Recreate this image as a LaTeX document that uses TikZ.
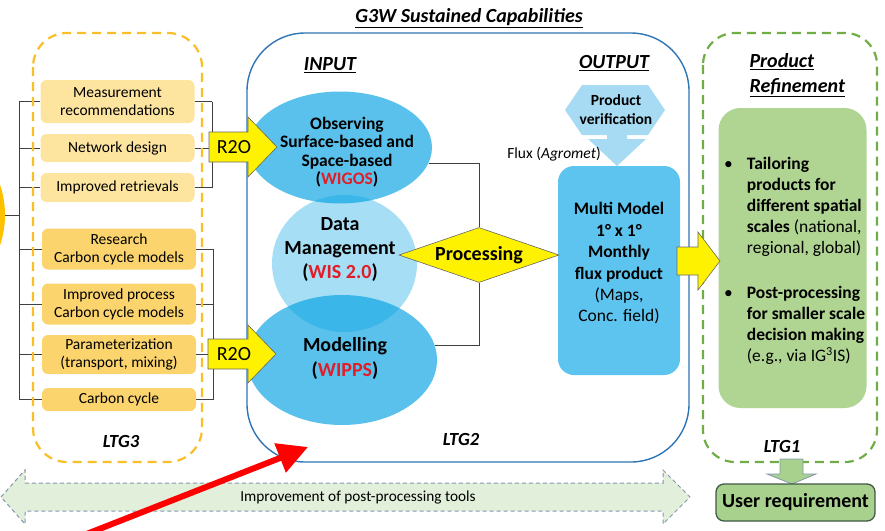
\documentclass[tikz,border=0pt]{standalone}
\usepackage{fontspec}
\setmainfont{Carlito}
\usetikzlibrary{arrows.meta}
\usetikzlibrary{shapes.geometric}

\definecolor{ltgorange}{RGB}{250,190,40}
\definecolor{srcorange}{RGB}{255,192,0}
\definecolor{itemlight}{RGB}{253,229,160}
\definecolor{itemdark}{RGB}{251,212,110}
\definecolor{ltgblue}{RGB}{46,117,182}
\definecolor{ellblue}{RGB}{0,160,225}
\definecolor{mmblue}{RGB}{93,196,240}
\definecolor{verblue}{RGB}{166,219,243}
\definecolor{ltggreen}{RGB}{112,173,71}
\definecolor{refgreen}{RGB}{176,212,146}
\definecolor{usergreen}{RGB}{169,209,142}
\definecolor{userborder}{RGB}{65,88,70}
\definecolor{impgreen}{RGB}{226,239,218}
\definecolor{impborder}{RGB}{132,151,176}
\definecolor{wmored}{RGB}{225,30,40}

\newcommand{\wmo}[1]{\textcolor{wmored}{#1}}

\tikzset{item/.style = {rounded corners = 6pt, inner sep = 0, minimum width = 154pt, align = center, font = \fontsize{15.5}{18}\selectfont}}
\tikzset{conn/.style = {draw = black!75, line width = 0.9pt}}
\tikzset{head/.style = {font = \fontsize{20}{25}\selectfont\bfseries\itshape}}
\tikzset{ltg/.style = {font = \fontsize{18.5}{22}\selectfont\bfseries\itshape}}
\tikzset{ltgthree/.style = {draw = ltgorange, line width = 2.2pt, dash pattern = on 9pt off 6pt, rounded corners = 34pt}}
\tikzset{ltgtwo/.style = {draw = ltgblue, line width = 1.4pt, rounded corners = 58pt}}
\tikzset{ltgone/.style = {draw = ltggreen, line width = 2.2pt, dash pattern = on 9pt off 6pt, rounded corners = 32pt}}
\tikzset{ell/.style = {ellipse, fill = ellblue, inner sep = 0, text opacity = 1}}
\tikzset{elltxt/.style = {align = center, font = \fontsize{20}{24}\selectfont\bfseries}}
\tikzset{yarrow/.style = {fill = yellow, draw = black!60, line width = 0.6pt}}
\tikzset{rtext/.style = {font = \fontsize{20}{24}\selectfont}}
\tikzset{redarr/.style = {draw = red, line width = 6pt, -{Triangle[length = 30pt, width = 30pt]}}}

\begin{document}
\begin{tikzpicture}[x = 1pt, y = -1pt]
      \clip (0,0) rectangle (885,530);

      \node [head] (title) at (469,18) {\underline{G3W Sustained Capabilities}};

      % LTG3: research side
      \node [circle, fill = srcorange, minimum size = 190pt] (src) at (-90,215) {};
      \node [item, fill = itemlight, minimum height = 43pt] (meas) at (117.5,101.5) {Measurement\\recommendations};
      \node [item, fill = itemlight, minimum height = 28pt] (netw) at (117.5,148) {Network design};
      \node [item, fill = itemlight, minimum height = 29pt] (retr) at (117.5,187.5) {Improved retrievals};
      \node [item, fill = itemdark, minimum height = 41pt] (rsch) at (119,249) {Research\\Carbon cycle models};
      \node [item, fill = itemdark, minimum height = 41pt] (impr) at (119,304) {Improved process\\Carbon cycle models};
      \node [item, fill = itemdark, minimum height = 39pt] (param) at (119,354.5) {Parameterization\\(transport, mixing)};
      \node [item, fill = itemdark, minimum height = 23pt] (ccyc) at (119,399.5) {Carbon cycle};

      \coordinate (lbr) at (19,0);
      \coordinate (rbra) at (212,0);
      \coordinate (rbrb) at (213,0);
      \draw [conn] (meas.west -| lbr) -- (ccyc.west -| lbr);
      \draw [conn] (src.east) -- (src.east -| lbr);
      \foreach \n in {meas,netw,retr,rsch,impr,param,ccyc}
        \draw [conn] (\n.west) -- (\n.west -| lbr);
      \draw [conn] (meas.east -| rbra) -- (retr.east -| rbra);
      \foreach \n in {meas,netw,retr}
        \draw [conn] (\n.east) -- (\n.east -| rbra);
      \draw [conn] (rsch.east -| rbrb) -- (ccyc.east -| rbrb);
      \foreach \n in {rsch,impr,param,ccyc}
        \draw [conn] (\n.east) -- (\n.east -| rbrb);

      \draw [ltgthree] (33,33) rectangle (202,462);
      \node [ltg] (ltg3) at (121,441) {LTG3};

      % LTG2: sustained capabilities
      \draw [ltgtwo] (247,33) rectangle (689,462);
      \node [head] (input) at (330,65) {\underline{INPUT}};
      \node [head] (output) at (614,63) {\underline{OUTPUT}};
      \node [ltg] (ltg2) at (461,439) {LTG2};

      \node [ell, fill opacity = 0.65, minimum width = 184pt, minimum height = 112pt] (obs) at (340,147.5) {};
      \node [ell, fill opacity = 0.35, minimum width = 145pt, minimum height = 137pt] (dm) at (344.5,263.5) {};
      \node [ell, fill opacity = 0.65, minimum width = 190pt, minimum height = 130pt] (mdl) at (342,360) {};
      \node [elltxt, font = \fontsize{17.5}{18.5}\selectfont\bfseries] (obstxt) at (347,152) {Observing\\Surface-based and\\Space-based\\(\wmo{WIGOS})};
      \node [elltxt] (dmtxt) at (340,250) {Data\\Management\\(\wmo{WIS 2.0})};
      \node [elltxt, font = \fontsize{20}{25}\selectfont\bfseries] (mdltxt) at (345,358) {Modelling\\(\wmo{WIPPS})};

      \node [rounded corners = 16pt, fill = mmblue, minimum width = 122pt, minimum height = 209pt] (mm) at (619,270.5) {};
      \node [align = center, font = \fontsize{17.5}{21.4}\selectfont] (mmtxt) at (619,263.5) {\textbf{Multi Model}\\\textbf{1° x 1°}\\\textbf{Monthly}\\\textbf{flux product}\\(Maps,\\Conc. field)};
      \node [diamond, aspect = 2.9, fill = yellow, draw = black!60, line width = 0.6pt, inner sep = 0, minimum width = 160pt, minimum height = 55pt, font = \fontsize{20}{24}\selectfont\bfseries] (proc) at (479,255) {Processing};
      \draw [conn] (obs.-10) -| (proc.north);
      \draw [conn] (mdl.9) -| (proc.south);

      \fill [verblue] (565,110) -- (582,85) -- (648,85) -- (665,110) -- (648,135) -- (582,135) -- cycle;
      \node [align = center, font = \fontsize{15.5}{19}\selectfont\bfseries] (verif) at (616,110) {Product\\verification};
      \fill [verblue] (607,133) -- (627,133) -- (627,139) -- (646,139) -- (617,166) -- (588,139) -- (607,139) -- cycle;
      \node [font = \fontsize{15.5}{18}\selectfont] (flux) at (554,154) {Flux (\textit{Agromet})};

      % LTG1: product refinement
      \draw [ltgone] (703,33) rectangle (877,462);
      \node [head, align = left, anchor = west] (prodref) at (746,75) {\underline{Product}\\\underline{Refinement}};
      \node [rounded corners = 22pt, fill = refgreen, minimum width = 148pt, minimum height = 300pt] (refbox) at (792.5,258) {};
      \node [anchor = west, inner sep = 0, font = \fontsize{17.5}{21}\selectfont] (reftxt) at (724,261.5) {%
        \begin{tabular}{@{}l@{\hspace{14pt}}l@{}}
          \textbullet & \textbf{Tailoring}\\
                      & \textbf{products for}\\
                      & \textbf{different spatial}\\
                      & \textbf{scales} (national,\\
                      & regional, global)\\[24pt]
          \textbullet & \textbf{Post-processing}\\
                      & \textbf{for smaller scale}\\
                      & \textbf{decision making}\\
                      & (e.g., via IG\textsuperscript{3}IS)
        \end{tabular}};
      \node [ltg] (ltg1) at (782,446) {LTG1};

      \draw [fill = usergreen, draw = impborder, line width = 0.8pt] (780,459) -- (803,459) -- (803,474) -- (816,474) -- (792,484) -- (767,474) -- (780,474) -- cycle;
      \node [rounded corners = 8pt, fill = usergreen, draw = userborder, line width = 1.3pt, minimum width = 159pt, minimum height = 37pt, font = \fontsize{20}{24}\selectfont\bfseries] (user) at (795.5,502.5) {User requirement};

      % block arrows
      \draw [yarrow] (209,132) -- (248,132) -- (248,117) -- (277,147) -- (248,177) -- (248,162) -- (209,162) -- cycle;
      \node [rtext] (r2oa) at (234,147) {R2O};
      \draw [yarrow] (208,339) -- (248,339) -- (248,325) -- (276,354) -- (248,383) -- (248,369) -- (208,369) -- cycle;
      \node [rtext] (r2ob) at (234,354) {R2O};
      \draw [yarrow] (677,247) -- (698,247) -- (698,232) -- (720,261) -- (698,290) -- (698,275) -- (677,275) -- cycle;

      \draw [fill = impgreen, draw = impborder, line width = 1pt, dash pattern = on 4pt off 3pt] (1,497) -- (25,470) -- (25,483) -- (663,483) -- (663,470) -- (690,497) -- (663,524) -- (663,511) -- (25,511) -- (25,524) -- cycle;
      \node [font = \fontsize{15.3}{18}\selectfont] (imp) at (358,497) {Improvement of post-processing tools};

      \coordinate (redtail) at (84,535);
      \coordinate (redtip) at (308,447);
      \draw [redarr] (redtail) -- (redtip);
    \end{tikzpicture}
\end{document}
